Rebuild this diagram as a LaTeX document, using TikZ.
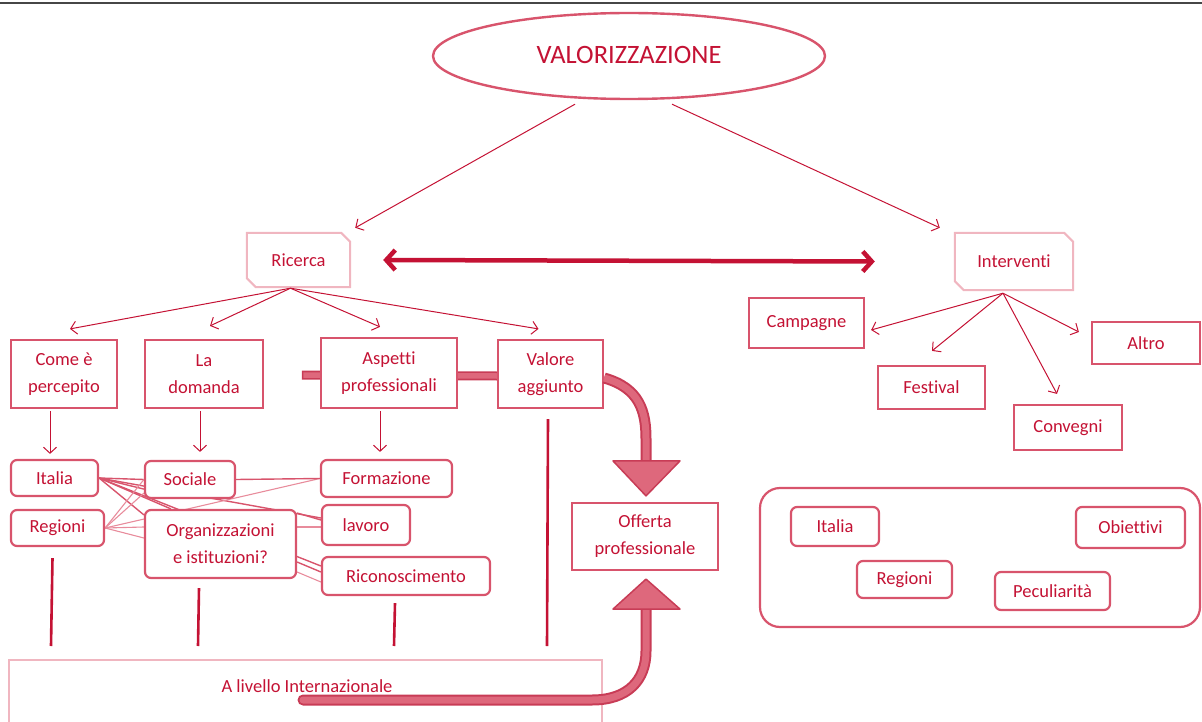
\documentclass[tikz,border=0pt]{standalone}
\usepackage{fontspec}
\setmainfont{Carlito}[Ligatures=NoCommon]
\usetikzlibrary{arrows.meta,shapes.geometric,calc,backgrounds}
\definecolor{tred}{RGB}{196,18,52}
\definecolor{bred}{RGB}{216,84,108}
\definecolor{lred}{RGB}{232,140,156}
\definecolor{lpink}{RGB}{240,182,192}
\definecolor{afill}{RGB}{222,104,124}
\definecolor{aedge}{RGB}{200,60,86}
\definecolor{gline}{RGB}{70,70,70}
\tikzset{
  box/.style={draw=bred, line width=2.2pt, fill=white, text=tred,
    font=\fontsize{18.5}{27}\selectfont, align=center, inner sep=0pt},
  rbox/.style={box, rounded corners=6pt},
  plain/.style={text=tred, font=\fontsize{18.5}{27}\selectfont, align=center, inner sep=0pt},
  thin/.style={draw=tred, line width=1pt, -{Straight Barb[length=6pt,width=13pt]}},
  link/.style={draw=bred, line width=1.4pt},
  linkl/.style={draw=lred, line width=1.1pt},
  vbar/.style={draw=tred, line width=2.6pt},
  shaftout/.style={draw=aedge, line width=11pt},
  shaftin/.style={draw=afill, line width=7pt},
  head/.style={fill=afill, draw=aedge, line width=1.5pt, line join=round}
}
\begin{document}
\begin{tikzpicture}[x=1pt,y=-1pt]
\useasboundingbox (0,0) rectangle (1202,722);
\draw[gline, line width=2pt] (0,3) -- (1202,3);

% top
\node[ellipse, draw=bred, line width=2.4pt, fill=white, minimum width=392pt, minimum height=86pt,
  inner sep=0pt, text=tred, font=\fontsize{26.5}{30}\selectfont] (valor) at (629,56) {\raisebox{3pt}{VALORIZZAZIONE}};

% snipped boxes
\node[plain, minimum width=103pt, minimum height=54pt] (ricerca) at (298.5,260) {Ricerca};
\node[plain, minimum width=118pt, minimum height=57pt] (interventi) at (1014,261.5) {Interventi};
\foreach \n in {ricerca,interventi}{
  \draw[lpink, line width=2pt] (\n.north west) -- ($(\n.north east)+(-9,0)$) -- ($(\n.north east)+(0,9)$)
    -- (\n.south east) -- ($(\n.south west)+(9,0)$) -- ($(\n.south west)+(0,-9)$) -- cycle;
}

% row 2
\node[box, minimum width=106pt, minimum height=68pt] (come) at (64,374) {Come è\\percepito};
\node[box, minimum width=118pt, minimum height=68pt] (domanda) at (204,374) {La\\domanda};
\node[box, minimum width=136pt, minimum height=70pt] (aspetti) at (389,373) {Aspetti\\professionali};
\node[box, minimum width=105pt, minimum height=68pt] (valore) at (550.5,374) {Valore\\aggiunto};
\node[box, minimum width=146pt, minimum height=67pt] (offerta) at (645,536.5) {Offerta\\professionale};

% row 3
\node[rbox, minimum width=87pt, minimum height=36pt] (italia) at (54.5,478) {Italia};
\node[rbox, minimum width=90pt, minimum height=37pt] (sociale) at (190,479.5) {Sociale};
\node[rbox, minimum width=131pt, minimum height=37pt] (formazione) at (386.5,478.5) {Formazione};
\node[rbox, minimum width=93pt, minimum height=36pt] (regioni) at (57.5,528) {Regioni};
\node[rbox, minimum width=151pt, minimum height=68pt] (org) at (220.5,544) {Organizzazioni\\e istituzioni?};
\node[rbox, minimum width=88pt, minimum height=40pt] (lavoro) at (366,525) {lavoro};
\node[rbox, minimum width=168pt, minimum height=38pt] (ricon) at (406,576) {Riconoscimento};

% international
\node[draw=lpink, line width=2pt, minimum width=593pt, minimum height=80pt, inner sep=0pt] (intl) at (305.5,700) {};
\node[plain] (intlt) at (307,686) {A livello Internazionale};

% right side
\node[box, minimum width=115pt, minimum height=50pt] (campagne) at (806.5,323) {\raisebox{4pt}{Campagne}};
\node[box, minimum width=107pt, minimum height=43pt] (festival) at (931.5,387.5) {Festival};
\node[box, minimum width=108pt, minimum height=45pt] (convegni) at (1068,427.5) {Convegni};
\node[box, minimum width=108pt, minimum height=42pt] (altro) at (1146,343) {Altro};

\node[draw=bred, line width=2.2pt, rounded corners=20pt, minimum width=440pt, minimum height=139pt, inner sep=0pt] (group) at (980,557.5) {};
\node[rbox, minimum width=88pt, minimum height=39pt] (italia2) at (835,526.5) {Italia};
\node[rbox, minimum width=109pt, minimum height=41pt] (obiettivi) at (1130.5,527.5) {Obiettivi};
\node[rbox, minimum width=95pt, minimum height=37pt] (regioni2) at (904.5,579.5) {Regioni};
\node[rbox, minimum width=115pt, minimum height=38pt] (pecul) at (1052.5,591) {Peculiarità};

% background links
\begin{scope}[on background layer]
  \draw[link] (italia.east) -- (sociale.west);
  \draw[link] (italia.east) -- ($(sociale.south west)+(0,-10)$);
  \draw[link] (italia.east) -- ($(org.north west)+(27,0)$);
  \draw[link] (italia.east) -- ($(org.north west)+(0,6)$);
  \draw[link] (italia.east) -- ($(lavoro.west)+(0,-7)$);
  \draw[link] (italia.east) -- ($(ricon.west)+(0,-10)$);
  \draw[linkl] (regioni.east) -- (sociale.west);
  \draw[linkl] (regioni.east) -- ($(sociale.south west)+(0,-6)$);
  \draw[linkl] (regioni.east) -- ($(org.west)+(0,-17)$);
  \draw[linkl] (regioni.east) -- ($(org.west)+(0,-6)$);
  \draw[linkl] (regioni.east) -- (formazione.west);
  \draw[link] (sociale.east) -- (formazione.west);
  \draw[link] ($(org.east)+(0,-31)$) -- ($(lavoro.west)+(0,-5)$);
  \draw[linkl] ($(org.east)+(0,-17)$) -- ($(lavoro.west)+(0,2)$);
  \draw[link] ($(org.east)+(0,18)$) -- ($(ricon.west)+(0,-4)$);
  \draw[linkl] ($(org.east)+(0,28)$) -- ($(ricon.west)+(0,6)$);
  % thick bar behind Aspetti
  \draw[aedge, line width=9pt] ($(aspetti.west)+(-18,2)$) -- ($(valore.west)+(0,2)$);
  \draw[afill, line width=5.5pt] ($(aspetti.west)+(-16.5,2)$) -- ($(valore.west)+(0,2)$);
\end{scope}

% arrows from top
\draw[thin] ($(valor.south)+(-54,4)$) -- ($(ricerca.north east)+(5,-5)$);
\draw[thin] ($(valor.south)+(43,4)$) -- ($(interventi.north west)+(-15,-5)$);
\draw[draw=tred, line width=4.5pt, {Straight Barb[length=9pt,width=20pt]}-{Straight Barb[length=9pt,width=20pt]}]
  ($(ricerca.east)+(33,0)$) -- ($(interventi.west)+(-80,0)$);

% ricerca to row 2
\coordinate (rs) at ($(ricerca.south)+(-8,1)$);
\draw[thin] (rs) -- ($(come.north)+(6,-10)$);
\draw[thin] (rs) -- ($(domanda.north)+(6,-13)$);
\draw[thin] (rs) -- ($(aspetti.north)+(-9,-10)$);
\draw[thin] (rs) -- ($(valore.north)+(-12,-10)$);

% down arrows
\draw[thin] ($(come.south)+(-14,2)$) -- ($(italia.north)+(-4.5,-5)$);
\draw[thin] ($(domanda.south)+(-4,2)$) -- ($(sociale.north)+(10,-8)$);
\draw[thin] ($(aspetti.south)+(-9,2)$) -- ($(formazione.north)+(-6.5,-7)$);

% interventi arrows
\coordinate (is) at ($(interventi.south)+(-11,3)$);
\draw[thin] (is) -- ($(campagne.east)+(6,7)$);
\draw[thin] (is) -- ($(festival.north)+(0.5,-14)$);
\draw[thin] (is) -- ($(convegni.north)+(-11,-10)$);
\draw[thin] (is) -- ($(altro.west)+(-12,-11)$);

% vertical bars to international
\draw[vbar] ($(regioni.south)+(-5,11)$) -- ($(intl.north west)+(43,-13)$);
\draw[vbar] ($(org.south)+(-21.5,9)$) -- ($(intl.north west)+(190,-13)$);
\draw[vbar] ($(ricon.south)+(-11,7)$) -- ($(intl.north west)+(386,-13)$);
\draw[vbar] ($(valore.south)+(-2.5,10)$) -- ($(intl.north west)+(539,-13)$);

% big curved arrow from Valore aggiunto to Offerta
\coordinate (tipA) at ($(offerta.north)+(1,-6)$);
\coordinate (baseA) at ($(tipA)+(0,-35)$);
\draw[shaftout] ($(valore.east)+(0,4)$) .. controls (640,388) and (646,412) .. ($(baseA)+(0,-22)$) -- ($(baseA)+(0,1)$);
\draw[shaftin] ($(valore.east)+(0,4)$) .. controls (640,388) and (646,412) .. ($(baseA)+(0,-22)$) -- ($(baseA)+(0,2)$);
\draw[head] ($(baseA)+(-33,0)$) -- ($(baseA)+(34,0)$) -- (tipA) -- cycle;

% curved arrow from international to Offerta
\coordinate (tipB) at ($(offerta.south)+(1,8)$);
\coordinate (baseB) at ($(tipB)+(0,30)$);
\coordinate (bstart) at (303,700);
\draw[shaftout, line cap=round] (bstart) -- (592,700) .. controls (628,700) and (646,680) .. ($(baseB)+(0,42)$) -- ($(baseB)+(0,-1)$);
\draw[shaftin, line cap=round] (bstart) -- (592,700) .. controls (628,700) and (646,680) .. ($(baseB)+(0,42)$) -- ($(baseB)+(0,-2)$);
\draw[head] ($(baseB)+(-33,0)$) -- ($(baseB)+(34,0)$) -- (tipB) -- cycle;
\end{tikzpicture}
\end{document}
